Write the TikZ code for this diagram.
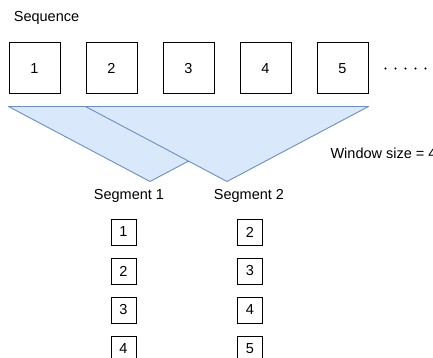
\documentclass[tikz,border=0pt]{standalone}
\usepackage{fontspec}
\setmainfont{Liberation Sans}
\usepackage{tikz}
\definecolor{windowfill}{RGB}{218, 232, 252}
\definecolor{windowline}{RGB}{108, 142, 191}
\usetikzlibrary{positioning, calc}

\begin{document}
\begin{tikzpicture}[
    x=1pt, y=-1pt,
    node distance=25pt,
    every node/.style={font=\fontsize{14.5}{17}\selectfont},
    item/.style={rectangle, draw, line width=1pt, minimum width=51pt, minimum height=51pt, inner sep=0pt},
    smallitem/.style={rectangle, draw, line width=1pt, minimum width=25pt, minimum height=26pt, inner sep=0pt},
    window/.style={draw=windowline, fill=windowfill, line width=0.9pt, line join=round}
]
    \useasboundingbox (0,0) rectangle (433,358);

    % Sequence
    \node (seq) at (46.5, 18) {Sequence};
    \node[item] (s1) at (34.5, 68.5) {1};
    \node[item, right=of s1] (s2) {2};
    \node[item, right=of s2] (s3) {3};
    \node[item, right=of s3] (s4) {4};
    \node[item, right=of s4] (s5) {5};
    \foreach \i in {0,...,4}
        \fill ($(s5.east)+(17+10*\i, 0)$) circle (1.1pt);

    % Windows
    \draw[window] ($(s1.south west)+(0,12)$) -- ($(s4.south east)+(0,12)$)
        -- ($(s1.south west)!0.5!(s4.south east)+(0,87)$) -- cycle;
    \draw[window] ($(s2.south west)+(0,12)$) -- ($(s5.south east)+(0,12)$)
        -- ($(s2.south west)!0.5!(s5.south east)+(0,87)$) -- cycle;
    \node[anchor=west] (win) at (327, 153) {Window size = 4};

    % Segments
    \node (seg1) at (129, 196) {Segment 1};
    \node (seg2) at (249, 196) {Segment 2};

    \node[smallitem] (a1) at (123.5, 232) {1};
    \node[smallitem, below=12pt of a1] (a2) {2};
    \node[smallitem, below=12pt of a2] (a3) {3};
    \node[smallitem, below=12pt of a3] (a4) {4};

    \node[smallitem] (b1) at (250, 232) {2};
    \node[smallitem, below=12pt of b1] (b2) {3};
    \node[smallitem, below=12pt of b2] (b3) {4};
    \node[smallitem, below=12pt of b3] (b4) {5};

\end{tikzpicture}
\end{document}
